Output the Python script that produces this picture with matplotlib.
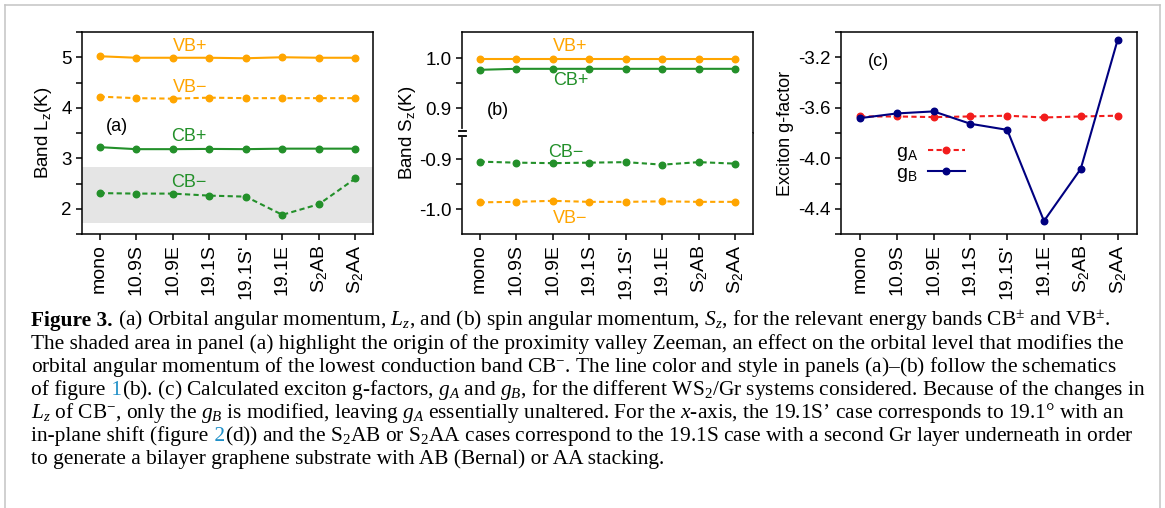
import matplotlib
matplotlib.use('Agg')
import matplotlib.pyplot as plt
from matplotlib.lines import Line2D
from matplotlib.ticker import MultipleLocator, FixedLocator, FormatStrFormatter
import numpy as np

plt.rcParams['font.family'] = ['Liberation Sans', 'DejaVu Sans']
plt.rcParams['axes.unicode_minus'] = False
plt.rcParams['mathtext.fontset'] = 'custom'
plt.rcParams['mathtext.rm'] = 'Liberation Serif'
plt.rcParams['mathtext.it'] = 'Liberation Serif:italic'
plt.rcParams['mathtext.bf'] = 'Liberation Serif:bold'

systems = ['mono', '10.9S', '10.9E', '19.1S', "19.1S'", '19.1E',
           r'S$\mathregular{_2}$AB', r'S$\mathregular{_2}$AA']

# (a) orbital angular momentum Lz
lz_vb_plus = [5.02, 4.99, 4.99, 4.99, 4.98, 5.00, 4.99, 4.99]
lz_vb_minus = [4.22, 4.19, 4.18, 4.20, 4.19, 4.19, 4.19, 4.19]
lz_cb_plus = [3.22, 3.18, 3.18, 3.185, 3.18, 3.19, 3.19, 3.19]
lz_cb_minus = [2.31, 2.30, 2.30, 2.26, 2.24, 1.88, 2.09, 2.60]

# (b) spin angular momentum Sz
sz_vb_plus = [0.999, 0.999, 0.999, 0.999, 0.999, 0.999, 0.999, 0.999]
sz_cb_plus = [0.977, 0.979, 0.979, 0.979, 0.979, 0.979, 0.979, 0.979]
sz_cb_minus = [-0.905, -0.907, -0.908, -0.907, -0.906, -0.911, -0.906, -0.909]
sz_vb_minus = [-0.986, -0.985, -0.983, -0.985, -0.985, -0.984, -0.985, -0.985]

# (c) exciton g-factors
g_a = [-3.669, -3.669, -3.674, -3.669, -3.663, -3.677, -3.669, -3.663]
g_b = [-3.682, -3.645, -3.629, -3.727, -3.775, -4.497, -4.084, -3.066]

ORANGE = '#ffa500'
GREEN = '#23902a'
RED = '#f21c1c'
NAVY = '#000080'
DASH = (0, (2.5, 1.6))

W, H = 1165, 508
fig = plt.figure(figsize=(W / 100, H / 100), dpi=100)
x = np.arange(len(systems))


def add_ax(left, top, right, bottom):
    return fig.add_axes([left / W, 1 - bottom / H, (right - left) / W, (bottom - top) / H])


def style(ax):
    for s in ax.spines.values():
        s.set_linewidth(1.1)
    ax.tick_params(axis='both', which='both', direction='out', length=4.5, width=1.1,
                   labelsize=13.5, top=False, right=False, pad=3)
    ax.tick_params(axis='x', labelsize=14)


def xcats(ax, lo, hi):
    ax.set_xlim(lo, hi)
    ax.set_xticks(x)
    ax.set_xticklabels(systems, rotation=90)


def fline(x1, y1, x2, y2, **kw):
    fig.add_artist(Line2D([x1 / W, x2 / W], [1 - y1 / H, 1 - y2 / H],
                          transform=fig.transFigure, **kw))


mk = dict(marker='o', markersize=4.7, lw=1.5)

# ---- panel (a)
axa = add_ax(82, 32, 373, 234)
style(axa)
axa.axhspan(1.71, 2.82, color='#e5e5e5', lw=0, zorder=0)
axa.plot(x, lz_vb_plus, color=ORANGE, **mk)
axa.plot(x, lz_vb_minus, color=ORANGE, ls=DASH, **mk)
axa.plot(x, lz_cb_plus, color=GREEN, **mk)
axa.plot(x, lz_cb_minus, color=GREEN, ls=DASH, **mk)
axa.set_ylim(1.5, 5.5)
axa.yaxis.set_major_locator(FixedLocator([2, 3, 4, 5]))
axa.yaxis.set_minor_locator(MultipleLocator(0.5))
xcats(axa, -0.48, 7.48)
axa.text(2.47, 5.22, 'VB+', color=ORANGE, fontsize=13, ha='center', va='center')
axa.text(2.47, 4.41, 'VB\u2212', color=ORANGE, fontsize=13, ha='center', va='center')
axa.text(2.45, 3.44, 'CB+', color=GREEN, fontsize=13, ha='center', va='center')
axa.text(2.45, 2.52, 'CB\u2212', color=GREEN, fontsize=13, ha='center', va='center')
axa.text(0.47, 3.63, '(a)', fontsize=13, ha='center', va='center')
fig.text(43.5 / W, 1 - 133 / H, r'Band L$\mathregular{_z}$(K)', rotation=90,
         fontsize=13.5, ha='center', va='center')

# ---- panel (b), broken y axis
axb1 = add_ax(462, 32, 753, 133)
axb2 = add_ax(462, 133, 753, 234)
for ax in (axb1, axb2):
    style(ax)
    ax.yaxis.set_major_formatter(FormatStrFormatter('%.1f'))
axb1.spines['bottom'].set_visible(False)
axb2.spines['top'].set_visible(False)
axb1.tick_params(axis='x', which='both', bottom=False, labelbottom=False)
axb1.plot(x, sz_vb_plus, color=ORANGE, **mk)
axb1.plot(x, sz_cb_plus, color=GREEN, **mk)
axb2.plot(x, sz_cb_minus, color=GREEN, ls=DASH, **mk)
axb2.plot(x, sz_vb_minus, color=ORANGE, ls=DASH, **mk)
axb1.set_ylim(0.85, 1.053)
axb2.set_ylim(-1.049, -0.848)
axb1.yaxis.set_major_locator(FixedLocator([0.9, 1.0]))
axb1.yaxis.set_minor_locator(FixedLocator([0.95]))
axb2.yaxis.set_major_locator(FixedLocator([-1.0, -0.9]))
axb2.yaxis.set_minor_locator(FixedLocator([-0.95]))
axb1.set_xlim(-0.48, 7.48)
xcats(axb2, -0.48, 7.48)
axb1.text(2.48, 1.023, 'VB+', color=ORANGE, fontsize=13, ha='center', va='center')
axb1.text(2.5, 0.955, 'CB+', color=GREEN, fontsize=13, ha='center', va='center')
axb1.text(0.5, 0.896, '(b)', fontsize=13, ha='center', va='center')
axb2.text(2.37, -0.887, 'CB\u2212', color=GREEN, fontsize=13, ha='center', va='center')
axb2.text(2.48, -1.018, 'VB\u2212', color=ORANGE, fontsize=13, ha='center', va='center')
fig.text(408 / W, 1 - 133 / H, r'Band S$\mathregular{_z}$(K)', rotation=90,
         fontsize=13.5, ha='center', va='center')
# break marks on the left spine
fline(462, 131.2, 462, 135.2, color='white', lw=3, zorder=20)
fline(458.5, 131, 466, 131, color='black', lw=1.3, zorder=21)
fline(458.5, 135.5, 466, 135.5, color='black', lw=1.3, zorder=21)

# ---- panel (c)
axc = add_ax(841, 32, 1137, 234)
style(axc)
axc.plot(x, g_a, color=RED, ls=DASH, label=r'g$\mathregular{_A}$', **mk)
axc.plot(x, g_b, color=NAVY, label=r'g$\mathregular{_B}$', **mk)
axc.set_ylim(-4.6, -3.0)
axc.yaxis.set_major_locator(FixedLocator([-4.4, -4.0, -3.6, -3.2]))
axc.yaxis.set_minor_locator(MultipleLocator(0.2))
axc.yaxis.set_major_formatter(FormatStrFormatter('%.1f'))
xcats(axc, -0.52, 7.53)
axc.text(0.5, -3.232, '(c)', fontsize=13, ha='center', va='center')
axc.legend(loc='upper left', bbox_to_anchor=(0.185, 0.45), frameon=False,
           markerfirst=False, fontsize=14, handlelength=1.9, handletextpad=0.5,
           labelspacing=0.1, borderpad=0, borderaxespad=0)
fig.text(785.5 / W, 1 - 133 / H, 'Exciton g-factor', rotation=90,
         fontsize=13, ha='center', va='center')

# ---- outer frame
FRAME = '#c4c4c4'
fline(5, 5, 5, 510, color=FRAME, lw=1.1)
fline(5, 5, 1160, 5, color=FRAME, lw=1.1)
fline(1160, 5, 1160, 510, color=FRAME, lw=1.1)

# ---- caption
LINK = '#2090c8'
cap = dict(family=['Liberation Serif', 'DejaVu Serif'], fontsize=15.4, va='baseline', ha='left')
caption = [
    [('Figure 3.', dict(weight='bold')),
     (r' (a) Orbital angular momentum, $L_z$, and (b) spin angular momentum, $S_z$, for the relevant energy bands CB$^{\pm}$ and VB$^{\pm}$.', {})],
    [('The shaded area in panel (a) highlight the origin of the proximity valley Zeeman, an effect on the orbital level that modifies the', {})],
    [('orbital angular momentum of the lowest conduction band CB$^{-}$. The line color and style in panels (a)\u2013(b) follow the schematics', {})],
    [('of figure', {}), (' 1', dict(color=LINK)),
     (r'(b). (c) Calculated exciton g-factors, $g_A$ and $g_B$, for the different WS$_2$/Gr systems considered. Because of the changes in', {})],
    [('$L_z$ of CB$^{-}$, only the $g_B$ is modified, leaving $g_A$ essentially unaltered. For the $x$-axis, the 19.1S\u2019 case corresponds to 19.1\u00b0 with an', {})],
    [('in-plane shift (figure', {}), (' 2', dict(color=LINK)),
     (r'(d)) and the S$_2$AB or S$_2$AA cases correspond to the 19.1S case with a second Gr layer underneath in order', {})],
    [('to generate a bilayer graphene substrate with AB (Bernal) or AA stacking.', {})],
]
renderer = fig.canvas.get_renderer()
for i, segs in enumerate(caption):
    xp = 31.0
    yp = 326 + 23 * i
    for txt, kw in segs:
        t = fig.text(xp / W, 1 - yp / H, txt, **cap, **kw)
        xp += t.get_window_extent(renderer=renderer).width + 0.5

fig.savefig('out.png', dpi=100)
